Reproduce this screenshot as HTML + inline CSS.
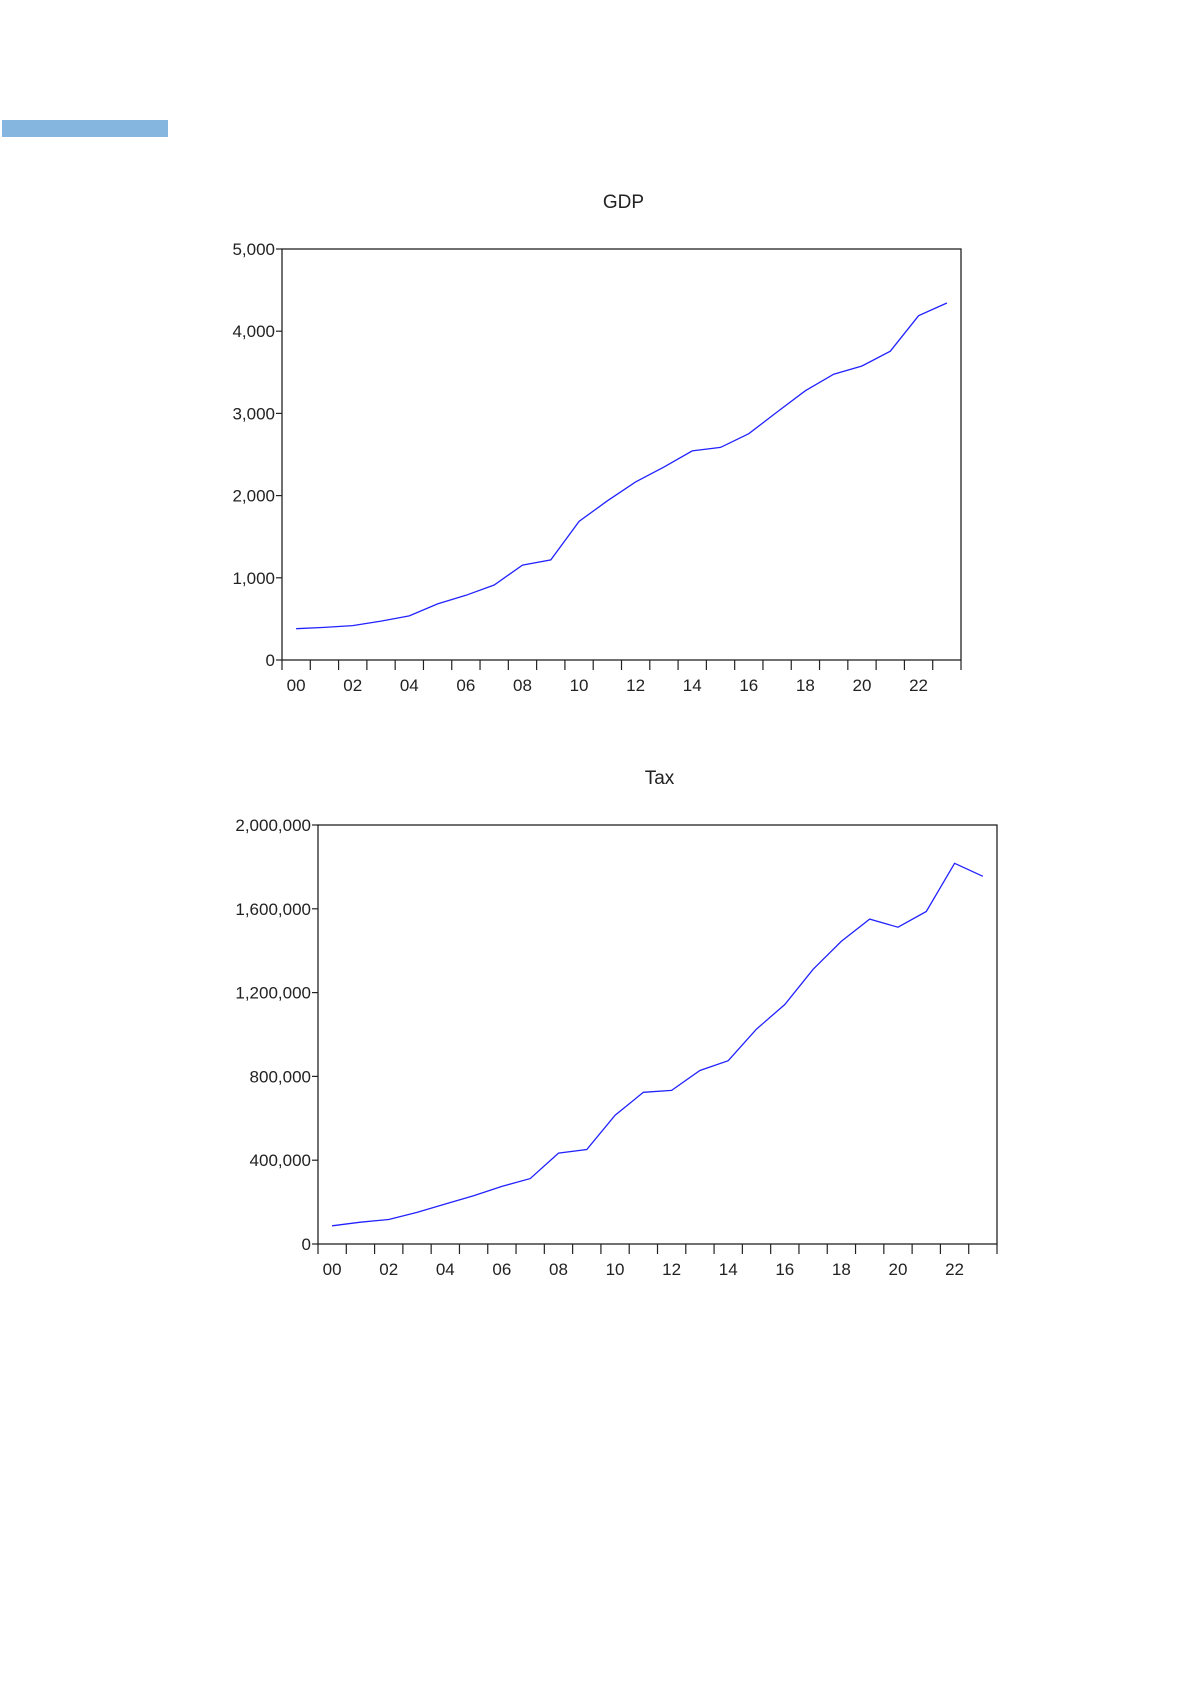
<!DOCTYPE html>
<html><head><meta charset="utf-8"><style>
html,body{margin:0;padding:0;background:#fff;width:1192px;height:1685px;overflow:hidden}
text{font-family:"Liberation Sans",Arial,sans-serif;fill:#222}
</style></head><body>
<svg id="page" width="1192" height="1685" viewBox="0 0 1192 1685" xmlns="http://www.w3.org/2000/svg">
<rect x="2" y="120" width="166" height="17" fill="#84b6df"/>
<g id="gdp"></g>
<g id="tax"></g>
</svg>
<script>
const years = ["00","01","02","03","04","05","06","07","08","09","10","11","12","13","14","15","16","17","18","19","20","21","22","23"];
const gdpValues = [381,397,418,473,536,682,787,912,1155,1218,1686,1937,2167,2347,2544,2586,2753,3017,3276,3477,3577,3757,4188,4343];
const gdpTicks = [0,1000,2000,3000,4000,5000];
const gdpTickLabels = ["0","1,000","2,000","3,000","4,000","5,000"];
const taxValues = [87000,104000,117000,151000,191000,230000,275000,312000,434000,451000,615000,724000,733000,828000,875000,1026000,1143000,1311000,1445000,1551000,1512000,1587000,1817000,1755000];
const taxTicks = [0,400000,800000,1200000,1600000,2000000];
const taxTickLabels = ["0","400,000","800,000","1,200,000","1,600,000","2,000,000"];

const NS="http://www.w3.org/2000/svg";
function mk(tag,attrs,parent){const e=document.createElementNS(NS,tag);for(const k in attrs)e.setAttribute(k,attrs[k]);parent.appendChild(e);return e;}

function drawChart(g,cfg,vals,ticks,tickLabels,title,prefix){
  const {L,R,T,B,max,TY}=cfg;
  const n=years.length, cw=(R-L)/n;
  const xs=i=>L+cw*(i+0.5);
  const ys=v=>B-(v/max)*(B-T);
  const t=mk('text',{x:(L+R)/2+2,y:TY,'text-anchor':'middle','font-size':19},g);
  t.textContent=title;
  
  
  const fr=mk('rect',{x:L,y:T,width:R-L,height:B-T,fill:'none',stroke:'#222','stroke-width':1.3},g);
  
  
  ticks.forEach((v,i)=>{
    const y=ys(v);
    const tk=mk('line',{x1:L-6,x2:L,y1:y,y2:y,stroke:'#222','stroke-width':1.2},g);
    
    
    const lb=mk('text',{x:L-7,y:y+6,'text-anchor':'end','font-size':17},g);
    lb.textContent=tickLabels[i];
    
    
  });
  for(let i=0;i<=n;i++){
    const x=L+cw*i;
    const tk=mk('line',{x1:x,x2:x,y1:B,y2:B+10,stroke:'#222','stroke-width':1.2},g);
    
    
  }
  years.forEach((yr,i)=>{
    if(i%2) return;
    const lb=mk('text',{x:xs(i),y:B+31,'text-anchor':'middle','font-size':17},g);
    lb.textContent=yr;
    
    
  });
  const pts=vals.map((v,i)=>xs(i).toFixed(1)+','+ys(v).toFixed(1)).join(' ');
  const pl=mk('polyline',{points:pts,fill:'none',stroke:'#2222ff','stroke-width':1.3},g);
  
  
}
drawChart(document.getElementById('gdp'),{L:282,R:961,T:249,B:660,max:5000,TY:208},gdpValues,gdpTicks,gdpTickLabels,'GDP','gdp');
drawChart(document.getElementById('tax'),{L:318,R:997,T:825,B:1244,max:2000000,TY:784},taxValues,taxTicks,taxTickLabels,'Tax','tax');
</script>
</body></html>
